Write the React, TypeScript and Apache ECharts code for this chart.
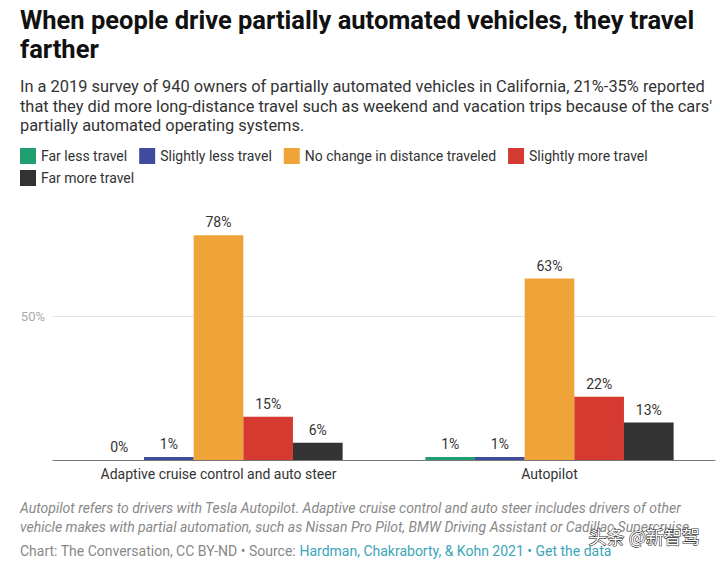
import React, { useEffect, useRef } from "react";
import * as echarts from "echarts";

const categories = ["Adaptive cruise control and auto steer", "Autopilot"];
const seriesNames = [
  "Far less travel",
  "Slightly less travel",
  "No change in distance traveled",
  "Slightly more travel",
  "Far more travel",
];
const farLess = [0, 1];
const slightlyLess = [1, 1];
const noChange = [78, 63];
const slightlyMore = [15, 22];
const farMore = [6, 13];
const seriesValues = [farLess, slightlyLess, noChange, slightlyMore, farMore];
const colors = ["#1f9e6f", "#3e4c9b", "#f0a438", "#d43a30", "#333333"];
const yTicks = [0, 50, 100];

const FONT = "Roboto, 'Noto Sans', sans-serif";

export default function App() {
  const ref = useRef<HTMLDivElement>(null);
  useEffect(() => {
    document.body.style.margin = "0";
    const chart = echarts.init(ref.current!, null, { renderer: "svg" });
    const series = seriesNames.map((name, i) => ({
      name,
      type: "bar",
      data: seriesValues[i],
      itemStyle: { color: colors[i] },
      barGap: "0%",
      barCategoryGap: "25%",
      label: {
        show: true,
        position: "top",
        distance: 6,
        formatter: "{c}%",
        color: "#333",
        fontSize: 14,
        fontFamily: FONT,
      },
    }));
    const legendText = { fontSize: 14, color: "#333", fontFamily: FONT };
    chart.setOption({
      animation: false,
      textStyle: { fontFamily: FONT },
      grid: { left: 53, right: 5, top: 172, bottom: 103 },
      legend: [
        {
          data: seriesNames.slice(0, 4),
          left: 20,
          top: 148,
          padding: 0,
          itemWidth: 16,
          itemHeight: 16,
          itemGap: 12,
          icon: "rect",
          textStyle: legendText,
        },
        {
          data: seriesNames.slice(4),
          left: 20,
          top: 170,
          padding: 0,
          itemWidth: 16,
          itemHeight: 16,
          icon: "rect",
          textStyle: legendText,
        },
      ],
      xAxis: {
        type: "category",
        data: categories,
        axisLine: { show: true, lineStyle: { color: "#777", width: 1 } },
        axisTick: { show: false },
        axisLabel: { color: "#333", fontSize: 14, margin: 7, fontFamily: FONT },
      },
      yAxis: {
        type: "value",
        min: yTicks[0],
        max: yTicks[yTicks.length - 1],
        interval: 50,
        axisLine: { show: false },
        axisTick: { show: false },
        axisLabel: {
          color: "#aaa",
          fontSize: 13,
          margin: 8,
          fontFamily: FONT,
          formatter: (v: number) => (v === 50 ? "50%" : ""),
        },
        splitLine: {
          show: true,
          lineStyle: { color: ["rgba(0,0,0,0)", "#e4e4e4", "rgba(0,0,0,0)"], width: 1 },
        },
      },
      series,
      graphic: [
        {
          type: "text",
          left: 20,
          top: 5,
          style: {
            text: "When people drive partially automated vehicles, they travel\nfarther",
            font: `bold 25.5px ${FONT}`,
            fill: "#111",
            lineHeight: 29,
          },
        },
        {
          type: "text",
          left: 20,
          top: 77,
          style: {
            text:
              "In a 2019 survey of 940 owners of partially automated vehicles in California, 21%-35% reported\nthat they did more long-distance travel such as weekend and vacation trips because of the cars'\npartially automated operating systems.",
            font: `16.4px ${FONT}`,
            fill: "#333",
            lineHeight: 19.5,
          },
        },
        {
          type: "text",
          left: 20,
          top: 498,
          style: {
            text:
              "Autopilot refers to drivers with Tesla Autopilot. Adaptive cruise control and auto steer includes drivers of other\nvehicle makes with partial automation, such as Nissan Pro Pilot, BMW Driving Assistant or Cadillac Supercruise.",
            font: `italic 14px ${FONT}`,
            fill: "#888",
            lineHeight: 19.5,
          },
        },
        {
          type: "text",
          left: 20,
          top: 544,
          style: {
            text: "{g|Chart: The Conversation, CC BY-ND • Source: }{l|Hardman, Chakraborty, & Kohn 2021 • Get the data}",
            font: `14px ${FONT}`,
            rich: {
              g: { fill: "#888", font: `14px ${FONT}` },
              l: { fill: "#3aa6b9", font: `14px ${FONT}` },
            },
          },
        },
        {
          type: "text",
          left: 588,
          top: 526,
          style: {
            text: "头条 @新智驾",
            font: `18px 'Noto Sans CJK SC', sans-serif`,
            fill: "#ffffff",
            stroke: "#333",
            lineWidth: 1.2,
          },
        },
      ],
    });
    return () => chart.dispose();
  }, []);
  return <div ref={ref} style={{ width: 720, height: 563 }} />;
}
